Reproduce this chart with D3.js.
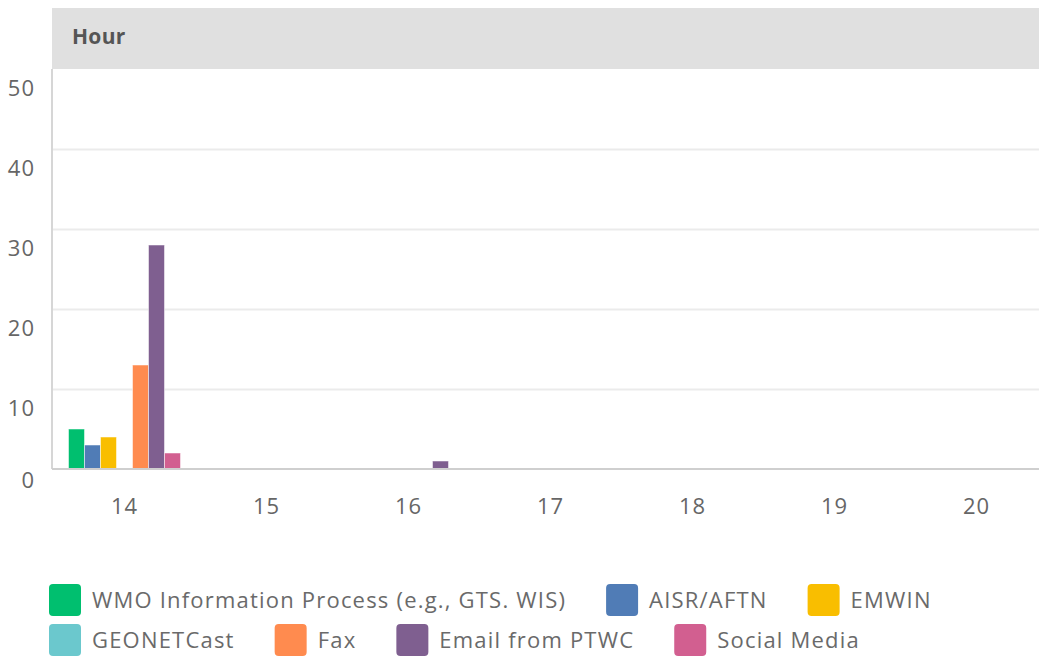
<!DOCTYPE html>
<html>
<head>
<meta charset="utf-8">
<script src="https://cdn.jsdelivr.net/npm/d3@7"></script>
<style>
  body { margin: 0; background: #fff; }
  svg { display: block; font-family: "Open Sans", sans-serif; }
</style>
</head>
<body>
<div id="chart"></div>
<script>
const hours = ["14", "15", "16", "17", "18", "19", "20"];
const seriesNames = ["WMO Information Process (e.g., GTS. WIS)", "AISR/AFTN", "EMWIN",
  "GEONETCast", "Fax", "Email from PTWC", "Social Media"];
const wmo = [5, 0, 0, 0, 0, 0, 0];
const aisr = [3, 0, 0, 0, 0, 0, 0];
const emwin = [4, 0, 0, 0, 0, 0, 0];
const geonet = [0, 0, 0, 0, 0, 0, 0];
const fax = [13, 0, 0, 0, 0, 0, 0];
const email = [28, 0, 1, 0, 0, 0, 0];
const social = [2, 0, 0, 0, 0, 0, 0];
const yTicks = [0, 10, 20, 30, 40, 50];
const colors = ["#00bf6f", "#507cb6", "#f9be00", "#6bc8cd", "#ff8b4f", "#7f5f90", "#d25f90"];

const allValues = [wmo, aisr, emwin, geonet, fax, email, social];
const W = 1039, H = 656;
const plotLeft = 52, plotTop = 69, plotBottom = 469;

const svg = d3.select("#chart").append("svg")
  .attr("width", W).attr("height", H);

// header band
svg.append("rect").attr("x", plotLeft).attr("y", 8).attr("width", W - plotLeft).attr("height", plotTop - 8)
  .attr("fill", "#e0e0e0");
svg.append("text").attr("x", 72).attr("y", 37).attr("dy", "0.35em")
  .attr("font-size", 21).attr("font-weight", "bold").attr("fill", "#555")
  .attr("letter-spacing", 0.3)
  .text("Hour");

const y = d3.scaleLinear().domain([0, 50]).range([plotBottom, plotTop]);
const x0 = d3.scaleBand().domain(hours).range([53.5, 1047.5]);
const x1 = d3.scaleBand().domain(seriesNames).range([0, 112]);

// gridlines
svg.append("g")
  .attr("transform", `translate(${plotLeft},0)`)
  .call(d3.axisLeft(y).tickValues(yTicks.slice(1, -1)).tickSize(-(W - plotLeft)).tickFormat(""))
  .call(g => g.select(".domain").remove())
  .call(g => g.selectAll("line").attr("stroke", "#ebebeb").attr("stroke-width", 2));

// left axis line
svg.append("line").attr("x1", plotLeft).attr("x2", plotLeft).attr("y1", plotTop).attr("y2", plotBottom)
  .attr("stroke", "#d6d6d6").attr("stroke-width", 2);

// y labels (sit a little below their gridlines)
svg.append("g")
  .attr("transform", "translate(35,0)")
  .call(d3.axisLeft(y).tickValues(yTicks).tickSize(0).tickPadding(0))
  .call(g => g.select(".domain").remove())
  .call(g => g.selectAll("text")
    .attr("font-family", "Open Sans, sans-serif")
    .attr("font-size", 22).attr("fill", "#666").attr("letter-spacing", 1)
    .attr("y", d => d === 0 ? 11 : 19).attr("dy", "0.35em"));

// bars
const rows = [];
allValues.forEach((vals, si) => {
  vals.forEach((v, hi) => {
    if (v > 0) rows.push({ hour: hours[hi], name: seriesNames[si], value: v, color: colors[si] });
  });
});
svg.append("g").selectAll("rect")
  .data(rows)
  .join("rect")
  .attr("x", d => x0(d.hour) + (x0.bandwidth() - 112) / 2 + x1(d.name))
  .attr("y", d => y(d.value))
  .attr("width", x1.bandwidth())
  .attr("height", d => plotBottom - y(d.value))
  .attr("fill", d => d.color)
  .attr("stroke", "rgba(255,255,255,0.5)")
  .attr("stroke-width", 1);

// baseline
svg.append("line").attr("x1", plotLeft).attr("x2", W).attr("y1", plotBottom).attr("y2", plotBottom)
  .attr("stroke", "#cfcfcf").attr("stroke-width", 2);

// x labels
svg.append("g")
  .attr("transform", "translate(0,506)")
  .call(d3.axisBottom(x0).tickSize(0).tickPadding(0))
  .call(g => g.select(".domain").remove())
  .call(g => g.selectAll("text")
    .attr("font-family", "Open Sans, sans-serif")
    .attr("font-size", 22).attr("fill", "#666").attr("letter-spacing", 1)
    .attr("dy", "0.35em"));

// legend
const legend = svg.append("g");
let lx = 49, ly = 584;
seriesNames.forEach((name, i) => {
  const item = legend.append("g");
  const t = item.append("text").attr("font-size", 22).attr("fill", "#6a6a6a")
    .attr("letter-spacing", 1.2)
    .attr("x", 43).attr("y", 16).attr("dy", "0.35em").text(name);
  const w = 43 + t.node().getComputedTextLength();
  if (lx + w > 1000) { lx = 49; ly += 40; }
  item.attr("transform", `translate(${lx},${ly})`);
  item.insert("rect", "text").attr("width", 32).attr("height", 32).attr("rx", 4)
    .attr("fill", colors[i]);
  lx += w + 40;
});
</script>
</body>
</html>
